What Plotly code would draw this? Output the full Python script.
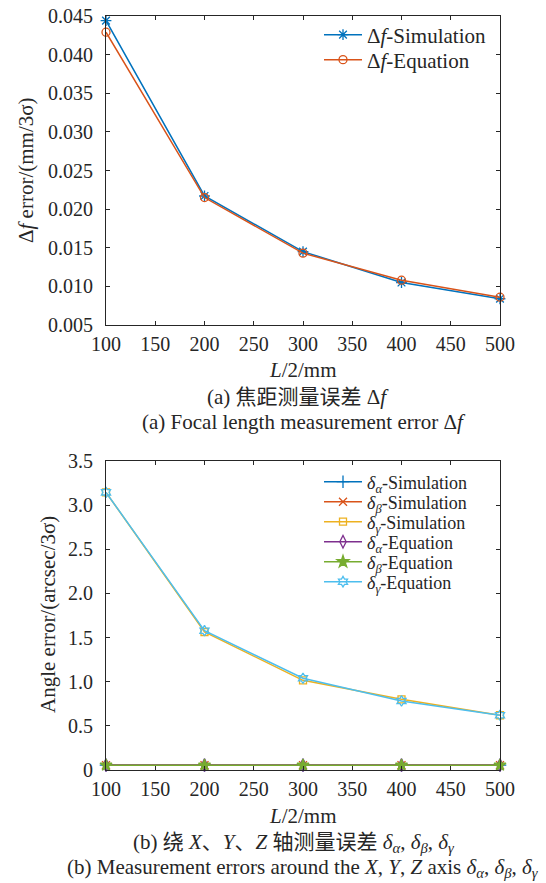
import plotly.graph_objects as go

W, H = 546, 883

# ---------------- data ----------------
L = [100, 200, 300, 400, 500]
df_sim = [0.0444, 0.0217, 0.0145, 0.0105, 0.0084]
df_eq = [0.0429, 0.0215, 0.0143, 0.0108, 0.0086]

da_sim = [0.055, 0.055, 0.055, 0.055, 0.055]
db_sim = [0.055, 0.055, 0.055, 0.055, 0.055]
dg_sim = [3.145, 1.563, 1.016, 0.801, 0.620]
da_eq = [0.055, 0.055, 0.055, 0.055, 0.055]
db_eq = [0.055, 0.055, 0.055, 0.055, 0.055]
dg_eq = [3.145, 1.578, 1.039, 0.782, 0.620]

x_ticks = [100, 150, 200, 250, 300, 350, 400, 450, 500]
top_y_ticks = [0.005, 0.010, 0.015, 0.020, 0.025, 0.030, 0.035, 0.040, 0.045]
top_y_text = ["0.005", "0.010", "0.015", "0.020", "0.025", "0.030", "0.035", "0.040", "0.045"]
bot_y_ticks = [0, 0.5, 1.0, 1.5, 2.0, 2.5, 3.0, 3.5]
bot_y_text = ["0", "0.5", "1.0", "1.5", "2.0", "2.5", "3.0", "3.5"]

top_names = ["Δ<i>f</i>-Simulation", "Δ<i>f</i>-Equation"]
bot_names = [
    "<i>δ</i><sub><i>α</i></sub>-Simulation",
    "<i>δ</i><sub><i>β</i></sub>-Simulation",
    "<i>δ</i><sub><i>γ</i></sub>-Simulation",
    "<i>δ</i><sub><i>α</i></sub>-Equation",
    "<i>δ</i><sub><i>β</i></sub>-Equation",
    "<i>δ</i><sub><i>γ</i></sub>-Equation",
]

# ---------------- style ----------------
FONT = "Liberation Serif"
FONT_CJK = "Liberation Serif, Noto Sans CJK SC"
TXT = "#262626"
C_BLUE = "#0072BD"
C_ORANGE = "#D95319"
C_YELLOW = "#EDB120"
C_PURPLE = "#7E2F8E"
C_GREEN = "#77AC30"
C_CYAN = "#4DBEEE"


def px(x):
    return x / W


def py(y):
    return 1 - y / H


fig = go.Figure()

top_series = [
    (df_sim, top_names[0], C_BLUE, "asterisk-open", 9),
    (df_eq, top_names[1], C_ORANGE, "circle-open", 8),
]
for i, (vals, name, col, sym, ms) in enumerate(top_series):
    fig.add_trace(go.Scatter(
        x=L, y=vals, name=name, mode="lines+markers",
        line=dict(color=col, width=1.5),
        marker=dict(symbol=sym, size=ms, color=col, line=dict(color=col, width=1.3)),
        xaxis="x", yaxis="y", cliponaxis=False, showlegend=True,
        legend="legend" if i == 0 else "legend2",
    ))

bot_series = [
    (da_sim, bot_names[0], C_BLUE, "cross-thin-open", 9),
    (db_sim, bot_names[1], C_ORANGE, "x-thin-open", 8),
    (dg_sim, bot_names[2], C_YELLOW, "square-open", 7),
    (da_eq, bot_names[3], C_PURPLE, "diamond-tall-open", 9),
    (db_eq, bot_names[4], C_GREEN, "star", 9),
    (dg_eq, bot_names[5], C_CYAN, "hexagram-open", 8),
]
for i, (vals, name, col, sym, ms) in enumerate(bot_series):
    fig.add_trace(go.Scatter(
        x=L, y=vals, name=name, mode="lines+markers",
        line=dict(color=col, width=1.5),
        marker=dict(symbol=sym, size=ms, color=col, line=dict(color=col, width=1.3)),
        xaxis="x2", yaxis="y2", cliponaxis=False, showlegend=True,
        legend="legend%d" % (i + 3),
    ))

axis_common = dict(
    showline=True, linecolor=TXT, linewidth=1, mirror="ticks",
    ticks="inside", ticklen=4, tickwidth=1, tickcolor=TXT,
    showgrid=False, zeroline=False, automargin=False,
    tickfont=dict(family=FONT, size=20, color=TXT),
)

PL, PR = 106, 500
TOP_T, TOP_B = 16, 325
BOT_T, BOT_B = 461, 770
xd = [px(PL), px(PR)]
fig.update_layout(
    width=W, height=H,
    showlegend=True,
    margin=dict(l=0, r=0, t=0, b=0, autoexpand=False),
    paper_bgcolor="white", plot_bgcolor="white",
    font=dict(family=FONT, color=TXT, size=20),
    xaxis=dict(domain=xd, anchor="y", range=[100, 500], tickvals=x_ticks,
               ticklabelstandoff=1, **axis_common),
    yaxis=dict(domain=[py(TOP_B), py(TOP_T)], anchor="x", range=[0.005, 0.045],
               tickvals=top_y_ticks, ticktext=top_y_text, ticklabelstandoff=8,
               **axis_common),
    xaxis2=dict(domain=xd, anchor="y2", range=[100, 500], tickvals=x_ticks,
                ticklabelstandoff=1, **axis_common),
    yaxis2=dict(domain=[py(BOT_B), py(BOT_T)], anchor="x2", range=[0, 3.5],
                tickvals=bot_y_ticks, ticktext=bot_y_text, ticklabelstandoff=8,
                **axis_common),
)

leg_top = dict(xanchor="left", yanchor="middle", bgcolor="rgba(0,0,0,0)",
               borderwidth=0, itemwidth=38, visible=True,
               font=dict(family=FONT, size=21, color=TXT))
leg_bot = dict(leg_top, font=dict(family=FONT, size=18, color=TXT))
legend_pos = {
    "legend": (319, 35, leg_top), "legend2": (319, 60, leg_top),
    "legend3": (319, 482, leg_bot), "legend4": (319, 502, leg_bot),
    "legend5": (319, 522, leg_bot), "legend6": (319, 542, leg_bot),
    "legend7": (319, 562, leg_bot), "legend8": (319, 582, leg_bot),
}
for k, (lx, ly, base) in legend_pos.items():
    fig.update_layout(**{k: dict(x=px(lx), y=py(ly), **base)})

ann = [
    ("<i>L</i>/2/mm", 303, 370, 21, 0, FONT),
    ("Δ<i>f</i> error/(mm/3σ)", 26, 170, 21, -90, FONT),
    ("(a) 焦距测量误差 Δ<i>f</i>", 298, 397, 21, 0, FONT_CJK),
    ("(a) Focal length measurement error Δ<i>f</i>", 304, 422, 21, 0, FONT),
    ("<i>L</i>/2/mm", 303, 816, 21, 0, FONT),
    ("Angle error/(arcsec/3σ)", 48, 615, 21, -90, FONT),
    ("(b) 绕 <i>X</i>、<i>Y</i>、<i>Z</i> 轴测量误差 <i>δ</i><sub><i>α</i></sub>, "
     "<i>δ</i><sub><i>β</i></sub>, <i>δ</i><sub><i>γ</i></sub>", 294, 843, 21, 0, FONT_CJK),
    ("(b) Measurement errors around the <i>X</i>, <i>Y</i>, <i>Z</i> axis "
     "<i>δ</i><sub><i>α</i></sub>, <i>δ</i><sub><i>β</i></sub>, "
     "<i>δ</i><sub><i>γ</i></sub>", 303, 868, 21, 0, FONT),
]
for text, ax, ay, size, rot, fam in ann:
    fig.add_annotation(
        text=text, x=px(ax), y=py(ay), xref="paper", yref="paper",
        xanchor="center", yanchor="middle", showarrow=False, textangle=rot,
        font=dict(family=fam, size=size, color=TXT),
    )

fig.write_html("out.html")
